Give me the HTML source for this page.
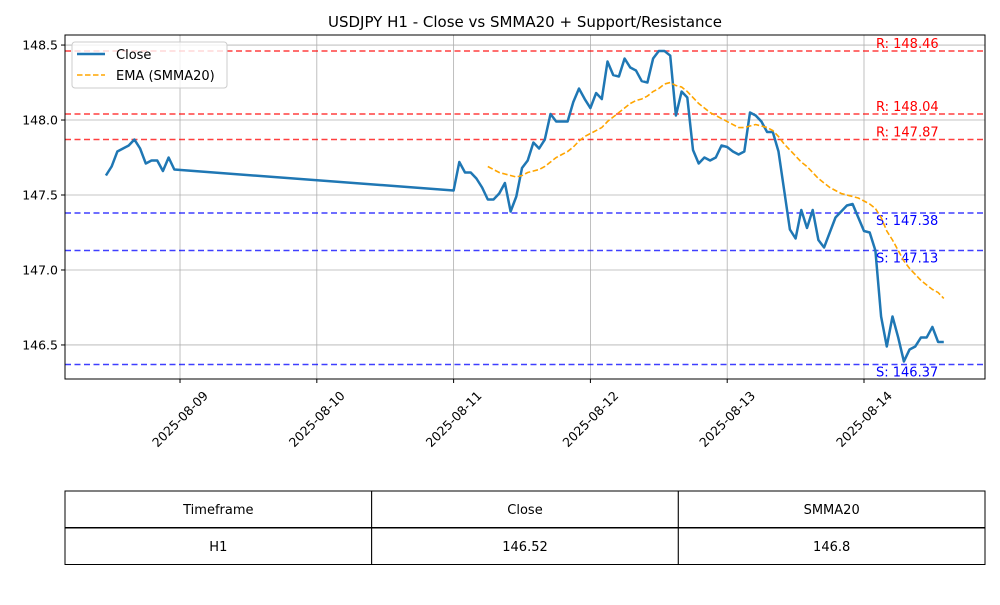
<!DOCTYPE html>
<html><head><meta charset="utf-8"><style>
body{margin:0;background:#fff;font-family:"Liberation Sans","DejaVu Sans",sans-serif}
svg text{font-family:"DejaVu Sans","Liberation Sans",sans-serif}
</style></head><body>
<svg id="c" width="1000" height="600" xmlns="http://www.w3.org/2000/svg"></svg>
<script>
const seg1Hours = [-13,-12,-11,-10,-9,-8,-7,-6,-5,-4,-3,-2,-1];
const seg1Close = [147.63,147.69,147.79,147.81,147.83,147.87,147.81,147.71,147.73,147.73,147.66,147.75,147.67];
const seg2Start = 48;
const seg2Close = [147.53,147.72,147.65,147.65,147.61,147.55,147.47,147.47,147.51,147.58,147.39,147.49,147.68,147.73,147.85,147.81,147.87,148.04,147.99,147.99,147.99,148.12,148.21,148.14,148.08,148.18,148.14,148.39,148.30,148.29,148.41,148.35,148.33,148.26,148.25,148.41,148.46,148.46,148.43,148.03,148.19,148.15,147.80,147.71,147.75,147.73,147.75,147.83,147.82,147.79,147.77,147.79,148.05,148.03,147.99,147.92,147.92,147.79,147.53,147.27,147.21,147.40,147.28,147.40,147.20,147.15,147.25,147.35,147.39,147.43,147.44,147.35,147.26,147.25,147.13,146.69,146.49,146.69,146.55,146.39,146.47,146.49,146.55,146.55,146.62,146.52,146.52];
const smmaOffset = 6;
const smma = [147.69,147.67,147.65,147.64,147.63,147.62,147.63,147.65,147.66,147.67,147.69,147.72,147.75,147.77,147.79,147.82,147.86,147.89,147.91,147.93,147.95,147.99,148.02,148.05,148.08,148.11,148.13,148.14,148.16,148.19,148.21,148.24,148.25,148.23,148.22,148.19,148.15,148.11,148.08,148.05,148.03,148.01,147.99,147.97,147.95,147.95,147.96,147.97,147.96,147.95,147.93,147.89,147.84,147.80,147.76,147.72,147.69,147.65,147.61,147.58,147.55,147.53,147.51,147.50,147.49,147.48,147.46,147.44,147.41,147.35,147.26,147.20,147.13,147.06,147.01,146.97,146.93,146.90,146.87,146.85,146.81];
const resistance = [148.46,148.04,147.87];
const support = [147.38,147.13,146.37];
const yTicks = [146.5,147.0,147.5,148.0,148.5];
const xTickLabels = ["2025-08-09","2025-08-10","2025-08-11","2025-08-12","2025-08-13","2025-08-14"];
const tableHeader = ["Timeframe","Close","SMMA20"];
const tableRow = ["H1","146.52","146.8"];

const L=65,R=985,T=35,B=379;
const xMin=-20.18,xMax=141.23,yMin=146.273,yMax=148.567;
const X=h=>L+(h-xMin)/(xMax-xMin)*(R-L);
const Y=v=>B-(v-yMin)/(yMax-yMin)*(B-T);
const svg=document.getElementById('c');
const NS='http://www.w3.org/2000/svg';
function mk(tag,attrs,parent){const e=document.createElementNS(NS,tag);for(const k in attrs)e.setAttribute(k,attrs[k]);(parent||svg).appendChild(e);return e;}

let t=mk('text',{x:525,y:27,'text-anchor':'middle','font-size':15,fill:'#000'});t.textContent='USDJPY H1 - Close vs SMMA20 + Support/Resistance';



yTicks.forEach(v=>{
  const g=mk('line',{x1:L,x2:R,y1:Y(v),y2:Y(v),stroke:'#b0b0b0','stroke-width':0.8});
  
  
  mk('line',{x1:L-4,x2:L,y1:Y(v),y2:Y(v),stroke:'#000'});
  const lb=mk('text',{x:L-7,y:Y(v)+4.5,'text-anchor':'end','font-size':12.5});lb.textContent=v.toFixed(1);
  
  
});
xTickLabels.forEach((s,i)=>{
  const x=X(i*24);
  const g=mk('line',{x1:x,x2:x,y1:T,y2:B,stroke:'#b0b0b0','stroke-width':0.8});
  
  
  mk('line',{x1:x,x2:x,y1:B,y2:B+4,stroke:'#000'});
  const cy=B+40;
  const lb=mk('text',{x:x,y:cy+4.5,'text-anchor':'middle','font-size':12.5,transform:`rotate(-45 ${x} ${cy})`});lb.textContent=s;
  
  
});

function level(v,color,prefix){
  const l=mk('line',{x1:L,x2:R,y1:Y(v),y2:Y(v),stroke:color,'stroke-width':1.5,'stroke-dasharray':'6,3.5',opacity:0.75});
  
  
  const ty=prefix==='R'?Y(v)-3:Y(v)+12;
  const lb=mk('text',{x:876,y:ty,'font-size':13,fill:color});lb.textContent=prefix+': '+v.toFixed(2);
  
  
}
resistance.forEach(v=>level(v,'red','R'));
support.forEach(v=>level(v,'blue','S'));

const pts=[];
seg1Hours.forEach((h,i)=>pts.push([X(h),Y(seg1Close[i])]));
seg2Close.forEach((v,i)=>pts.push([X(seg2Start+i),Y(v)]));
const cl=mk('polyline',{points:pts.map(p=>p.join(',')).join(' '),fill:'none',stroke:'#1f77b4','stroke-width':2.5,'stroke-linejoin':'round'});


const sp=smma.map((v,i)=>[X(seg2Start+smmaOffset+i),Y(v)]);
const sl=mk('polyline',{points:sp.map(p=>p.join(',')).join(' '),fill:'none',stroke:'orange','stroke-width':1.6,'stroke-dasharray':'5.5,2.5'});



const fr=mk('rect',{x:L,y:T,width:R-L,height:B-T,fill:'none',stroke:'#000','stroke-width':1});



const lg=mk('g',{});


mk('rect',{x:72,y:42,width:155,height:46,rx:3,fill:'#fff','fill-opacity':0.8,stroke:'#ccc'},lg);
mk('line',{x1:77,x2:105,y1:54,y2:54,stroke:'#1f77b4','stroke-width':2.5},lg);
let e=mk('text',{x:116,y:59,'font-size':13},lg);e.textContent='Close';


mk('line',{x1:77,x2:105,y1:75,y2:75,stroke:'orange','stroke-width':1.6,'stroke-dasharray':'5.5,2.5'},lg);
e=mk('text',{x:116,y:80,'font-size':13},lg);e.textContent='EMA (SMMA20)';



const tb=mk('g',{});


const cw=(R-L)/3;
[[491,tableHeader],[528,tableRow]].forEach(([y,row])=>{
  row.forEach((s,i)=>{
    mk('rect',{x:L+i*cw,y:y,width:cw,height:36.5,fill:'#fff',stroke:'#000','stroke-width':1},tb);
    const c=mk('text',{x:L+i*cw+cw/2,y:y+23,'text-anchor':'middle','font-size':13},tb);c.textContent=s;
    
    
  });
});
</script>
</body></html>
